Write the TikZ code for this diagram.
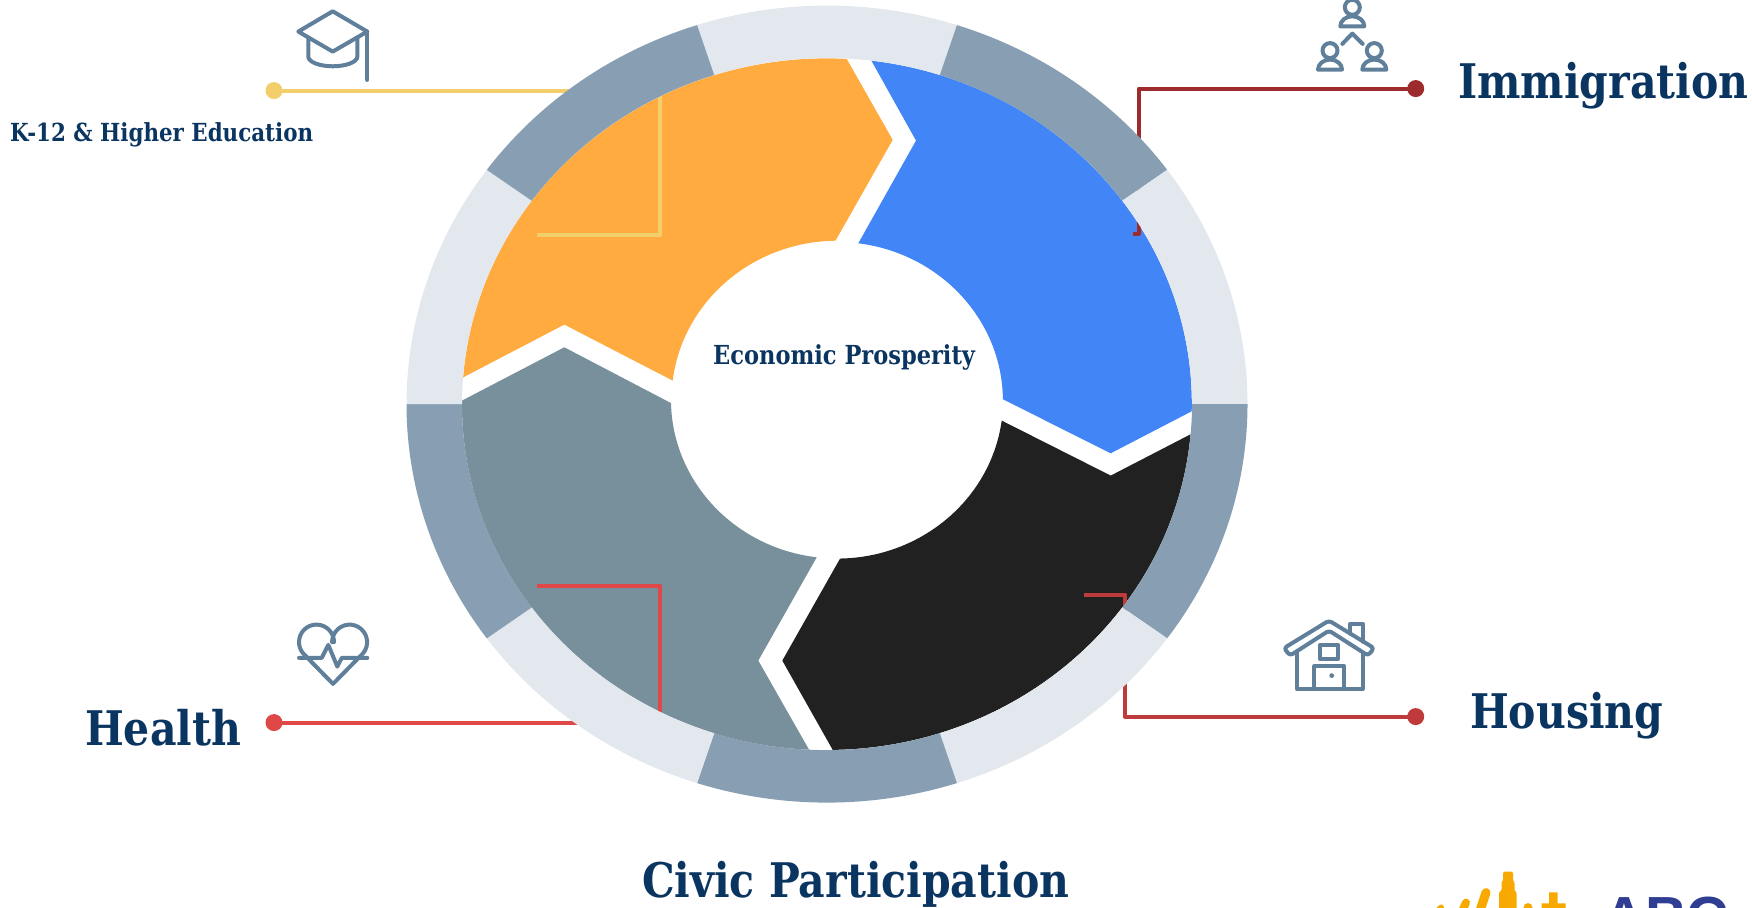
\documentclass[tikz,border=0pt]{standalone}
\usepackage{fontspec}
\setmainfont{DejaVu Serif}
\newfontfamily\slabfont[FakeStretch=0.86]{DejaVu Serif}
\newfontfamily\logofont{Liberation Sans}
\definecolor{titleblue}{HTML}{0B3561}
\definecolor{ringlight}{HTML}{E2E8ED}
\definecolor{ringdark}{HTML}{889FB3}
\definecolor{iconblue}{HTML}{5F7F9A}
\definecolor{segorange}{HTML}{FFAB40}
\definecolor{segblue}{HTML}{4285F6}
\definecolor{segblack}{HTML}{212121}
\definecolor{seggray}{HTML}{78909C}
\definecolor{leadyellow}{HTML}{F3CF6C}
\definecolor{leadmaroon}{HTML}{9E2B2B}
\definecolor{leadbrick}{HTML}{BF3A3A}
\definecolor{leadred}{HTML}{E04848}
\definecolor{logoorange}{HTML}{F7A900}
\definecolor{logoblue}{HTML}{2F3E93}
\tikzset{
  bigtext/.style={anchor=base west,inner sep=0pt,text=titleblue,font=\fontsize{47.7}{47.7}\slabfont\bfseries},
  smalltext/.style={anchor=base west,inner sep=0pt,text=titleblue,font=\fontsize{26.2}{26.2}\slabfont\bfseries},
  leadline/.style={line width=4pt,line join=round},
  leaddot/.style={circle,inner sep=0pt,minimum size=17pt},
  iconline/.style={draw=iconblue,line width=4pt,line cap=round,line join=round},
  personicon/.pic={
    \draw[iconline] (0,0) circle [radius=7.5];
    \draw[iconline] (-12,-19) -- (12,-19) arc [start angle=0,end angle=180,x radius=12,y radius=10];
  }
}
\begin{document}
\begin{tikzpicture}[x=1pt,y=1pt]
  \useasboundingbox (0,0.6) rectangle (1752,907.6);
  \clip (0,0.6) rectangle (1752,907.6);
  % segments
  \fill[segorange] (463.3,530.3) -- (564.3,583) -- (672.7,527)
    arc [start angle=173.1,end angle=90.7,x radius=166,y radius=159]
    -- (892.7,767.7) -- (846.7,848.7)
    arc [start angle=86.9,end angle=175.6,x radius=365,y radius=346] -- cycle;
  \fill[segblue] (871.7,846.3) -- (916,767) -- (858.3,664.3)
    arc [start angle=82.6,end angle=0.6,x radius=166,y radius=159]
    -- (1110.7,454.3) -- (1191.7,496.3)
    arc [start angle=-1.2,end angle=83,x radius=365,y radius=346] -- cycle;
  \fill[segblack] (1190,473) -- (1110.7,432) -- (1001.7,487)
    arc [start angle=-7.6,end angle=-89,x radius=166,y radius=159]
    -- (782.3,247) -- (832.7,157.7)
    arc [start angle=-89.1,end angle=-5.05,x radius=365,y radius=346] -- cycle;
  \fill[seggray] (809,158) -- (758.3,247) -- (816.7,350.3)
    arc [start angle=263,end angle=181.3,x radius=166,y radius=159]
    -- (564.3,560.3) -- (462,507)
    arc [start angle=179.4,end angle=267.2,x radius=365,y radius=346] -- cycle;
  % leader lines
  \node[leaddot,fill=leadyellow] (dotedu) at (274,817) {};
  \node[leaddot,fill=leadmaroon] (dotimm) at (1415.7,819) {};
  \node[leaddot,fill=leadbrick] (dothou) at (1415.7,191) {};
  \node[leaddot,fill=leadred] (dothea) at (274,185) {};
  \coordinate (endedu) at (537,673);
  \coordinate (endimm) at (1133,674);
  \coordinate (endhou) at (1084,313);
  \coordinate (endhea) at (537,321.3);
  \draw[leadline,leadyellow] (dotedu.center) -| (660,673) -- (endedu);
  \draw[leadline,leadmaroon] (dotimm.center) -| (1139,674) -- (endimm);
  \draw[leadline,leadbrick] (dothou.center) -| (1125,313) -- (endhou);
  \draw[leadline,leadred] (dothea.center) -| (660,321.3) -- (endhea);
  % ring
  \foreach \a/\b/\c in {72/108/ringlight,36/72/ringdark,0/36/ringlight,-36/0/ringdark,-72/-36/ringlight,
      -108/-72/ringdark,-144/-108/ringlight,-180/-144/ringdark,144/180/ringlight,108/144/ringdark}
    \fill[\c] (827,503.5) ++(\a:420.5 and 398.5)
      arc [start angle=\a,end angle=\b,x radius=420.5,y radius=398.5]
      -- ([shift={(\b:365 and 346)}]827,503.5)
      arc [start angle=\b,end angle=\a,x radius=365,y radius=346] -- cycle;
  % texts
  \node[smalltext] (eco) at (713,543) {Economic Prosperity};
  \node[smalltext,font=\fontsize{24.9}{24.9}\slabfont\bfseries] (edu) at (10,766) {K-12 \& Higher Education};
  \node[bigtext] (imm) at (1458,809) {Immigration};
  \node[bigtext] (hou) at (1470,179) {Housing};
  \node[bigtext] (hea) at (85,162) {Health};
  \node[bigtext] (civ) at (642,10) {Civic Participation};
  % cap icon
  \draw[iconline] (298.3,876) -- (332.7,896.3) -- (367.3,876) -- (332.7,856) -- cycle;
  \draw[iconline] (308.3,870) -- (308.3,851) arc [start angle=180,end angle=360,x radius=24.5,y radius=9.7] -- (357.3,870);
  \draw[iconline] (367.3,876) -- (367.3,827.7);
  % people icon
  \pic at (1352.3,900.3) {personicon};
  \pic at (1330,857) {personicon};
  \pic at (1374.3,857) {personicon};
  \draw[iconline] (1342.3,863.7) -- (1352.3,874) -- (1362.7,863.7);
  % house icon
  \draw[iconline,rounded corners=3pt] (1329,287) -- (1374,259.5) -- (1368,252) -- (1329,277) -- (1290,252) -- (1284,259.5) -- cycle;
  \draw[iconline] (1296.7,255) -- (1296.7,218.7) -- (1362.7,218.7) -- (1362.7,255);
  \draw[iconline] (1350,274) -- (1350,283.7) -- (1362.7,283.7) -- (1362.7,266);
  \draw[iconline] (1320,248.7) rectangle (1338.3,262.7);
  \draw[iconline] (1314.3,218.7) -- (1314.3,241.3) -- (1344.3,241.3) -- (1344.3,218.7);
  \fill[iconblue] (1331.7,232) circle [radius=2.4];
  % heart icon
  \draw[iconline] (334,265.5) arc [start angle=0,end angle=220,radius=17.5] -- (333,223.7) -- (363,254.2)
    arc [start angle=-40,end angle=180,radius=17.5];
  \draw[iconline] (299,249.7) -- (321.7,249.7) -- (328.3,262.7) -- (337.3,241) -- (341.7,249.7) -- (367.3,249.7);
  % logo
  \fill[logoorange,rounded corners=2pt] (1499,-5) -- (1499,16) -- (1501.5,16) -- (1501.5,26) -- (1503,26) -- (1503,36) -- (1513,36) -- (1513,26) -- (1514.5,26) -- (1514.5,16) -- (1516.5,16) -- (1516.5,-5) -- cycle;
  \draw[logoorange,line width=9pt,line cap=round] (1486,15) -- (1479,-6);
  \draw[logoorange,line width=8pt,line cap=round] (1466,5) -- (1461,-6);
  \draw[logoorange,line width=6pt,line cap=round] (1441,0) -- (1437,-4);
  \fill[logoorange] (1541.7,-5) -- (1541.7,4.3) -- (1549,4.3) -- (1549,15.3) -- (1557.7,15.3) -- (1557.7,4.3) -- (1565.7,4.3) -- (1565.7,-5) -- cycle;
  \fill[logoorange] (1528,0) circle [radius=4.5];
  \node[anchor=base west,inner sep=0pt,text=logoblue,font=\fontsize{58}{58}\logofont\bfseries] (logo) at (1603,-30) {ABC};
\end{tikzpicture}
\end{document}
